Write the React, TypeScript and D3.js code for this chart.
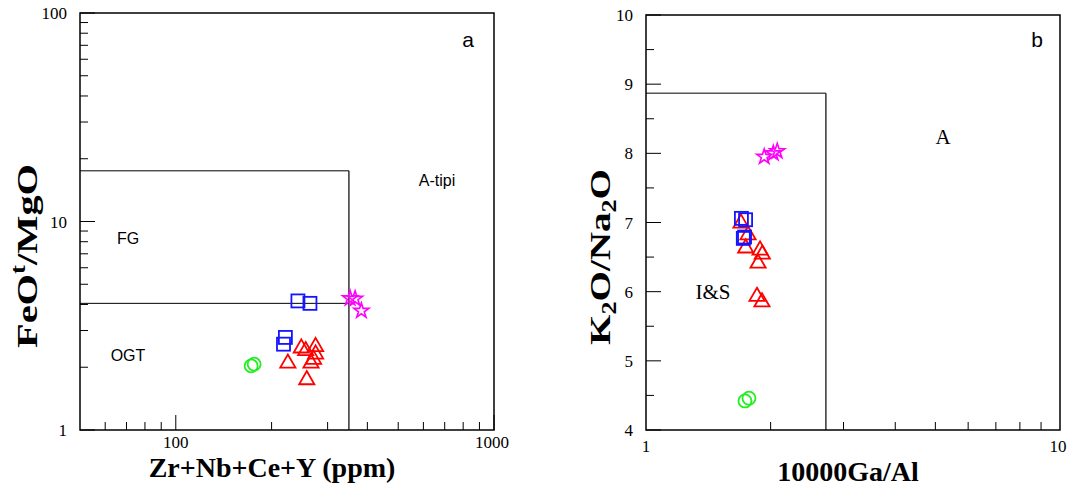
import React from "react";
import * as d3 from "d3";

// ---- Panel a data (Zr+Nb+Ce+Y ppm, FeOt/MgO) ----
const aSquares: [number, number][] = [[242, 4.16], [264, 4.05], [221, 2.78], [218, 2.58]];
const aStars: [number, number][] = [[353, 4.28], [366, 4.26], [383, 3.73]];
const aCircles: [number, number][] = [[172.5, 2.03], [176.3, 2.07]];
const aTriangles: [number, number][] = [
  [225, 2.09], [248, 2.47], [256, 2.4], [275, 2.51], [275, 2.31], [271, 2.18], [266, 2.09], [258, 1.74],
];
const aXTicks = [100, 1000];
const aYTicks = [1, 10, 100];
const aBoundX = 350;
const aBoundTop = 17.5;
const aBoundMid = 4.05;

// ---- Panel b data (10000Ga/Al, K2O/Na2O) ----
const bSquares: [number, number][] = [[1.70, 7.06], [1.74, 7.04], [1.718, 6.77], [1.73, 6.79]];
const bStars: [number, number][] = [[1.93, 7.95], [2.03, 8.0], [2.075, 8.03]];
const bCircles: [number, number][] = [[1.734, 4.42], [1.773, 4.46]];
const bTriangles: [number, number][] = [
  [1.696, 6.99], [1.764, 6.82], [1.741, 6.63], [1.886, 6.6], [1.91, 6.54], [1.865, 6.41], [1.854, 5.93], [1.906, 5.85],
];
const bXTicks = [1, 10];
const bYTicks = [4, 5, 6, 7, 8, 9, 10];
const bBoundX = 2.72;
const bBoundY = 8.87;

const RED = "#ff0000";
const BLUE = "#1414ff";
const MAGENTA = "#ff00ff";
const GREEN = "#22ee22";
const SERIF = "Liberation Serif, Times New Roman, serif";
const SANS = "Liberation Sans, Arial, sans-serif";

const triPath = d3.symbol(d3.symbolTriangle, 100)()!;
const starPath = d3.symbol(d3.symbolStar, 70)()!;

function Markers({ x, y, squares, stars, circles, triangles }: any) {
  return (
    <g fill="none" strokeWidth={1.8}>
      {circles.map((d: number[], i: number) => (
        <circle key={"c" + i} cx={x(d[0])} cy={y(d[1])} r={6.5} stroke={GREEN} />
      ))}
      {triangles.map((d: number[], i: number) => (
        <path key={"t" + i} d={triPath} transform={`translate(${x(d[0])},${y(d[1])})`} stroke={RED} />
      ))}
      {squares.map((d: number[], i: number) => (
        <rect key={"s" + i} x={x(d[0]) - 6.5} y={y(d[1]) - 6.5} width={13} height={13} stroke={BLUE} />
      ))}
      {stars.map((d: number[], i: number) => (
        <path key={"st" + i} d={starPath} transform={`translate(${x(d[0])},${y(d[1])})`} stroke={MAGENTA} strokeWidth={1.6} />
      ))}
    </g>
  );
}

export default function App() {
  // Panel a scales
  const ax = d3.scaleLog().domain([50, 1000]).range([80, 494]);
  const ay = d3.scaleLog().domain([1, 100]).range([430, 13]);
  // Panel b scales
  const bx = d3.scaleLog().domain([1, 10]).range([646, 1060]);
  const by = d3.scaleLinear().domain([4, 10]).range([430, 15]);

  const aXMinor = [60, 70, 80, 90, 200, 300, 400, 500, 600, 700, 800, 900];
  const aYMinor = [2, 3, 4, 5, 6, 7, 8, 9, 20, 30, 40, 50, 60, 70, 80, 90];
  const bXMinor = [2, 3, 4, 5, 6, 7, 8, 9];
  const bYMinor = d3.range(4.5, 10, 1);

  const MAJ = 15;
  const MIN = 8;

  return (
    <svg width={1078} height={489} style={{ position: "absolute", left: 0, top: 0, background: "#fff" }}>
      {/* ---------- Panel a ---------- */}
      <g>
        <rect x={80} y={13} width={414} height={417} fill="none" stroke="#000" strokeWidth={1.5} />
        <line x1={80} x2={ax(aBoundX)} y1={ay(aBoundTop)} y2={ay(aBoundTop)} stroke="#000" strokeWidth={1} />
        <line x1={80} x2={ax(aBoundX)} y1={ay(aBoundMid)} y2={ay(aBoundMid)} stroke="#000" strokeWidth={1} />
        <line x1={ax(aBoundX)} x2={ax(aBoundX)} y1={ay(aBoundTop)} y2={430} stroke="#000" strokeWidth={1.2} />
        {aXTicks.map((t) => (
          <g key={"axt" + t}>
            <line x1={ax(t)} x2={ax(t)} y1={430} y2={430 - MAJ} stroke="#000" strokeWidth={1} />
            <text x={t === 1000 ? ax(t) - 2 : ax(t)} y={448} textAnchor="middle" fontFamily={SERIF} fontSize={17}>{t}</text>
          </g>
        ))}
        {aXMinor.map((t) => (
          <line key={"axm" + t} x1={ax(t)} x2={ax(t)} y1={430} y2={430 - MIN} stroke="#000" strokeWidth={1} />
        ))}
        {aYTicks.map((t) => (
          <g key={"ayt" + t}>
            <line x1={80} x2={80 + MAJ} y1={ay(t)} y2={ay(t)} stroke="#000" strokeWidth={1} />
            <text x={67} y={ay(t) + 6} textAnchor="end" fontFamily={SERIF} fontSize={17}>{t}</text>
          </g>
        ))}
        {aYMinor.map((t) => (
          <line key={"aym" + t} x1={80} x2={80 + MIN} y1={ay(t)} y2={ay(t)} stroke="#000" strokeWidth={1} />
        ))}
        <text x={468} y={47} textAnchor="middle" fontFamily={SANS} fontSize={21}>a</text>
        <text x={437} y={186} textAnchor="middle" fontFamily={SANS} fontSize={16}>A-tipi</text>
        <text x={128} y={244} textAnchor="middle" fontFamily={SANS} fontSize={16}>FG</text>
        <text x={128} y={361} textAnchor="middle" fontFamily={SANS} fontSize={16}>OGT</text>
        <Markers x={ax} y={ay} squares={aSquares} stars={aStars} circles={aCircles} triangles={aTriangles} />
        <text x={272} y={477} textAnchor="middle" fontFamily={SERIF} fontWeight="bold" fontSize={28}>Zr+Nb+Ce+Y (ppm)</text>
        <text transform="translate(37,256) rotate(-90)" textAnchor="middle" fontFamily={SERIF} fontWeight="bold" fontSize={30}
          textLength={184} lengthAdjust="spacingAndGlyphs">
          FeO<tspan fontSize={20} dy={-12}>t</tspan><tspan dy={12}>/MgO</tspan>
        </text>
      </g>

      {/* ---------- Panel b ---------- */}
      <g>
        <rect x={646} y={15} width={414} height={415} fill="none" stroke="#000" strokeWidth={1.5} />
        <line x1={646} x2={bx(bBoundX)} y1={by(bBoundY)} y2={by(bBoundY)} stroke="#000" strokeWidth={1} />
        <line x1={bx(bBoundX)} x2={bx(bBoundX)} y1={by(bBoundY)} y2={430} stroke="#000" strokeWidth={1.2} />
        {bXTicks.map((t) => (
          <text key={"bxt" + t} x={t === 10 ? bx(t) - 2 : bx(t)} y={452} textAnchor="middle" fontFamily={SERIF} fontSize={17}>{t}</text>
        ))}
        {bXMinor.map((t) => (
          <line key={"bxm" + t} x1={bx(t)} x2={bx(t)} y1={430} y2={430 - MIN} stroke="#000" strokeWidth={1} />
        ))}
        {bYTicks.map((t) => (
          <g key={"byt" + t}>
            <line x1={646} x2={646 + MAJ} y1={by(t)} y2={by(t)} stroke="#000" strokeWidth={1} />
            <text x={633} y={by(t) + 6} textAnchor="end" fontFamily={SERIF} fontSize={17}>{t}</text>
          </g>
        ))}
        {bYMinor.map((t) => (
          <line key={"bym" + t} x1={646} x2={646 + MIN} y1={by(t)} y2={by(t)} stroke="#000" strokeWidth={1} />
        ))}
        <text x={1037} y={47} textAnchor="middle" fontFamily={SANS} fontSize={21}>b</text>
        <text x={943} y={144} textAnchor="middle" fontFamily={SERIF} fontSize={21}>A</text>
        <text x={713} y={299} textAnchor="middle" fontFamily={SERIF} fontSize={21}>I&amp;S</text>
        <Markers x={bx} y={by} squares={bSquares} stars={bStars} circles={bCircles} triangles={bTriangles} />
        <text x={848} y={481} textAnchor="middle" fontFamily={SERIF} fontWeight="bold" fontSize={28}>10000Ga/Al</text>
        <text transform="translate(610,257) rotate(-90)" textAnchor="middle" fontFamily={SERIF} fontWeight="bold" fontSize={30}
          textLength={176} lengthAdjust="spacingAndGlyphs">
          K<tspan fontSize={20} dy={6}>2</tspan><tspan dy={-6}>O/Na</tspan><tspan fontSize={20} dy={6}>2</tspan><tspan dy={-6}>O</tspan>
        </text>
      </g>
    </svg>
  );
}
